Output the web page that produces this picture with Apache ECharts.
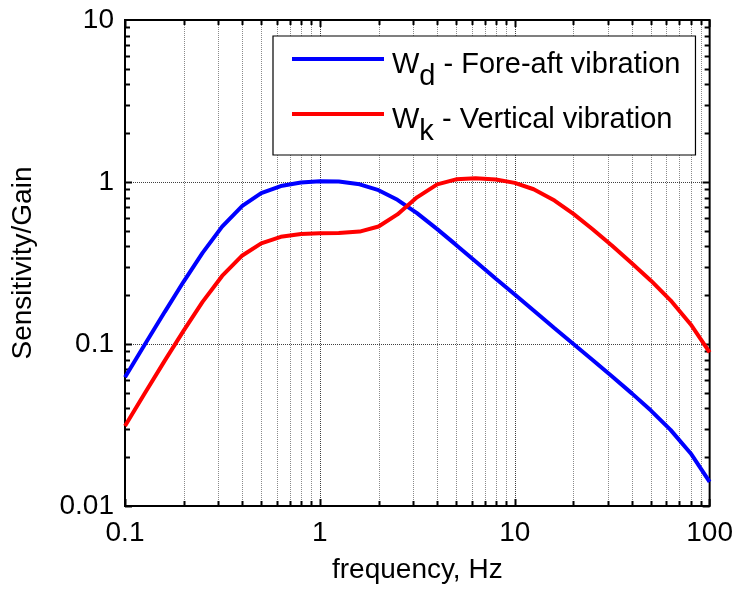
<!DOCTYPE html>
<html>
<head>
<meta charset="utf-8">
<script src="https://cdn.jsdelivr.net/npm/echarts@6/dist/echarts.min.js"></script>
<style>html,body{margin:0;padding:0;background:#fff}#c{width:736px;height:589px}</style>
</head>
<body>
<div id="c"></div>
<script>
// ---- data ----
const freqs = [0.1,0.125,0.16,0.2,0.25,0.315,0.4,0.5,0.63,0.8,1,1.25,1.6,2,2.5,3.15,4,5,6.3,8,10,12.5,16,20,25,31.5,40,50,63,80,100];
const wdGain = [0.0624,0.0973,0.158,0.243,0.365,0.530,0.713,0.853,0.944,0.992,1.011,1.008,0.968,0.890,0.776,0.642,0.512,0.409,0.323,0.253,0.202,0.161,0.125,0.100,0.080,0.0632,0.0494,0.0388,0.0295,0.0211,0.0141];
const wkGain = [0.0312,0.0486,0.079,0.121,0.182,0.263,0.352,0.418,0.459,0.477,0.482,0.484,0.494,0.531,0.631,0.804,0.967,1.039,1.054,1.036,0.988,0.902,0.768,0.636,0.513,0.405,0.314,0.246,0.186,0.132,0.0887];
const seriesNames = ['Wd - Fore-aft vibration', 'Wk - Vertical vibration'];
const xTickLabels = ['0.1','1','10','100'];
const yTickLabels = ['0.01','0.1','1','10'];
const xDecades = [0.1, 1, 10];
const yDecades = [0.01, 0.1, 1];

const FONT = 'Liberation Sans, Arial, Helvetica, sans-serif';
const X_MIN = 0.1, X_MAX = 100, Y_MIN = 0.01, Y_MAX = 10;

function labelFor(list, v) {
  const s = list.find(t => Math.abs(Math.log10(+t) - Math.log10(v)) < 1e-6);
  return s === undefined ? '' : s;
}

const chart = echarts.init(document.getElementById('c'), null, {renderer: 'canvas'});

function gridRender(params, api) {
  const children = [];
  const a = api.coord([X_MIN, Y_MIN]);
  const b = api.coord([X_MAX, Y_MAX]);
  const x0 = a[0], y0 = a[1], x1 = b[0], y1 = b[1];
  const major = '#404040', minor = '#8a8a8a';
  const tickW = 2, majLen = 7, minLen = 5;
  // vertical grid lines & x ticks
  xDecades.forEach(d => {
    for (let m = 1; m <= 9; m++) {
      const v = d * m;
      const px = Math.round(api.coord([v, Y_MIN])[0]) + 0.5;
      const isMajor = m === 1;
      if (!(d === X_MIN && m === 1)) {
        children.push({type: 'line', shape: {x1: px, y1: y0, x2: px, y2: y1},
          style: {stroke: isMajor ? major : minor, lineWidth: 1, lineDash: [1, 1]}});
      }
      const len = isMajor ? majLen : minLen;
      children.push({type: 'line', shape: {x1: px, y1: y0, x2: px, y2: y0 - len}, style: {stroke: '#000', lineWidth: tickW}});
      children.push({type: 'line', shape: {x1: px, y1: y1, x2: px, y2: y1 + len}, style: {stroke: '#000', lineWidth: tickW}});
    }
  });
  // horizontal grid lines & y ticks
  yDecades.forEach(d => {
    for (let m = 1; m <= 9; m++) {
      const v = d * m;
      const py = Math.round(api.coord([X_MIN, v])[1]) + 0.5;
      const isMajor = m === 1;
      if (isMajor && d !== Y_MIN) {
        children.push({type: 'line', shape: {x1: x0, y1: py, x2: x1, y2: py},
          style: {stroke: major, lineWidth: 1, lineDash: [1, 1]}});
      }
      const len = isMajor ? majLen : minLen;
      children.push({type: 'line', shape: {x1: x0, y1: py, x2: x0 + len, y2: py}, style: {stroke: '#000', lineWidth: tickW}});
      children.push({type: 'line', shape: {x1: x1, y1: py, x2: x1 - len, y2: py}, style: {stroke: '#000', lineWidth: tickW}});
    }
  });
  [X_MAX].forEach(v => {
    const px = api.coord([v, Y_MIN])[0];
    children.push({type: 'line', shape: {x1: px, y1: y0, x2: px, y2: y0 - majLen}, style: {stroke: '#000', lineWidth: tickW}});
    children.push({type: 'line', shape: {x1: px, y1: y1, x2: px, y2: y1 + majLen}, style: {stroke: '#000', lineWidth: tickW}});
  });
  [Y_MAX].forEach(v => {
    const py = api.coord([X_MIN, v])[1];
    children.push({type: 'line', shape: {x1: x0, y1: py, x2: x0 + majLen, y2: py}, style: {stroke: '#000', lineWidth: tickW}});
    children.push({type: 'line', shape: {x1: x1, y1: py, x2: x1 - majLen, y2: py}, style: {stroke: '#000', lineWidth: tickW}});
  });
  // frame
  children.push({type: 'rect', shape: {x: x0, y: y1, width: x1 - x0, height: y0 - y1},
    style: {fill: 'none', stroke: '#000', lineWidth: 2}});
  return {type: 'group', children: children};
}

const richText = {
  a: {fontFamily: FONT, fontSize: 29, color: '#000', verticalAlign: 'top', lineHeight: 30, padding: [6, 0, 0, 0]},
  b: {fontFamily: FONT, fontSize: 29, color: '#000', verticalAlign: 'top', lineHeight: 30, padding: [18, 0, 0, 0]}
};

const option = {
  backgroundColor: '#fff',
  animation: false,
  grid: {left: 125, right: 26, top: 20, bottom: 80, containLabel: false},
  xAxis: {
    type: 'log', logBase: 10, min: X_MIN, max: X_MAX,
    name: 'frequency, Hz', nameLocation: 'middle', nameGap: 50,
    nameTextStyle: {fontFamily: FONT, fontSize: 28, color: '#000'},
    axisLine: {show: false},
    axisTick: {show: false},
    splitLine: {show: false},
    minorTick: {show: false},
    axisLabel: {fontFamily: FONT, fontSize: 28, color: '#000', margin: 13,
      formatter: v => labelFor(xTickLabels, v)}
  },
  yAxis: {
    type: 'log', logBase: 10, min: Y_MIN, max: Y_MAX,
    name: 'Sensitivity/Gain', nameLocation: 'middle', nameGap: 88,
    nameTextStyle: {fontFamily: FONT, fontSize: 28, color: '#000'},
    axisLine: {show: false},
    axisTick: {show: false},
    splitLine: {show: false},
    minorTick: {show: false},
    axisLabel: {fontFamily: FONT, fontSize: 28, color: '#000', margin: 11,
      formatter: v => labelFor(yTickLabels, v)}
  },
  legend: {
    data: seriesNames,
    orient: 'vertical',
    left: 273, top: 36,
    padding: [8, 15, 9, 19],
    itemGap: 8,
    itemWidth: 92, itemHeight: 4,
    icon: 'rect',
    backgroundColor: '#fff',
    borderColor: '#000', borderWidth: 1.2, borderRadius: 0,
    textStyle: {fontFamily: FONT, fontSize: 29, color: '#000', padding: [0, 0, 0, 3], rich: richText},
    formatter: function (name) {
      const sub = name.charAt(1);
      return '{a|W}{b|' + sub + '}{a|' + name.slice(2) + '}';
    }
  },
  series: [
    {
      type: 'custom', name: 'grid', silent: true, z: 1,
      coordinateSystem: 'cartesian2d',
      data: [[1, 1]],
      renderItem: gridRender
    },
    {
      type: 'line', name: seriesNames[0], z: 3,
      data: freqs.map((f, i) => [f, wdGain[i]]),
      showSymbol: false, symbol: 'none',
      itemStyle: {color: '#0000ff'},
      lineStyle: {color: '#0000ff', width: 4}
    },
    {
      type: 'line', name: seriesNames[1], z: 3,
      data: freqs.map((f, i) => [f, wkGain[i]]),
      showSymbol: false, symbol: 'none',
      itemStyle: {color: '#ff0000'},
      lineStyle: {color: '#ff0000', width: 4}
    }
  ]
};
chart.setOption(option);
</script>
</body>
</html>
